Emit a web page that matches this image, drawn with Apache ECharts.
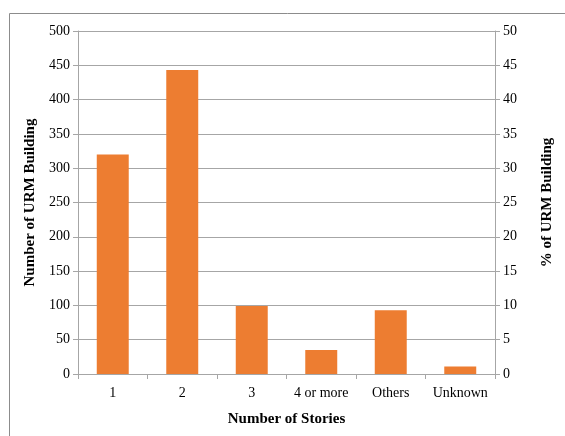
<!DOCTYPE html>
<html>
<head>
<meta charset="utf-8">
<script src="https://cdn.jsdelivr.net/npm/echarts@6/dist/echarts.min.js"></script>
<style>
  html, body { margin: 0; padding: 0; background: #fff; }
  #chart { width: 565px; height: 436px; }
</style>
</head>
<body>
<div id="chart"></div>
<script>
// data
const categories = ['1', '2', '3', '4 or more', 'Others', 'Unknown']
const buildingCounts = [320, 443, 99, 35, 93, 11]

const font = 'Liberation Serif'
const axisGray = '#a6a6a6'

const chart = echarts.init(document.getElementById('chart'))
chart.setOption({
  animation: false,
  textStyle: { fontFamily: font },
  graphic: [
    {
      // outer frame, runs off the right and bottom edges
      type: 'rect',
      shape: { x: 9.5, y: 13.5, width: 600, height: 500 },
      style: { fill: 'none', stroke: '#8c8c8c', lineWidth: 1 }
    }
  ],
  grid: { left: 78, right: 70, top: 31, bottom: 62 },
  xAxis: {
    type: 'category',
    data: categories,
    name: 'Number of Stories',
    nameLocation: 'middle',
    nameGap: 38,
    nameTextStyle: { fontFamily: font, fontWeight: 'bold', fontSize: 15, color: '#000' },
    axisLine: { lineStyle: { color: axisGray } },
    axisTick: { show: true, length: 5, lineStyle: { color: axisGray } },
    axisLabel: { color: '#000', fontFamily: font, fontSize: 14, margin: 12, interval: 0, hideOverlap: false }
  },
  yAxis: [
    {
      type: 'value',
      min: 0,
      max: 500,
      interval: 50,
      name: 'Number of URM Building',
      nameLocation: 'middle',
      nameGap: 30,
      nameRotate: 90,
      nameTextStyle: { fontFamily: font, fontWeight: 'bold', fontSize: 15, color: '#000' },
      axisLine: { show: true, lineStyle: { color: axisGray } },
      axisTick: { show: true, length: 5, lineStyle: { color: axisGray } },
      axisLabel: { color: '#000', fontFamily: font, fontSize: 14, margin: 8 },
      splitLine: { lineStyle: { color: axisGray } }
    },
    {
      type: 'value',
      min: 0,
      max: 50,
      interval: 5,
      name: '% of URM Building',
      nameLocation: 'middle',
      nameGap: 45,
      nameRotate: 90,
      nameTextStyle: { fontFamily: font, fontWeight: 'bold', fontSize: 15, color: '#000' },
      axisLine: { show: true, lineStyle: { color: axisGray } },
      axisTick: { show: true, length: 5, lineStyle: { color: axisGray } },
      axisLabel: { color: '#000', fontFamily: font, fontSize: 14, margin: 8 },
      splitLine: { show: false }
    }
  ],
  series: [
    {
      type: 'bar',
      data: buildingCounts,
      barWidth: '46%',
      itemStyle: { color: '#ed7d31' }
    }
  ]
})
</script>
</body>
</html>
